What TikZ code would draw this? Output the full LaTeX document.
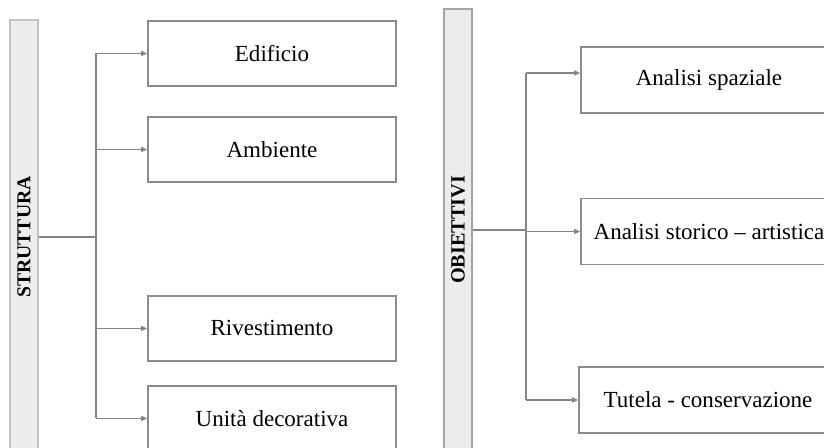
\documentclass[tikz,border=0pt]{standalone}
\usepackage{fontspec}
\setmainfont{Liberation Serif}
\usepackage{xcolor}
\usepackage{tikz}
\usetikzlibrary{positioning,arrows.meta,calc}

\begin{document}
\begin{tikzpicture}[x=0.02cm, y=0.02cm]
    % Define colors
    \definecolor{linegray}{RGB}{133, 133, 133}
    \definecolor{boxgray}{RGB}{140, 140, 140}
    \definecolor{barfill}{RGB}{236, 236, 236}
    \definecolor{barline}{RGB}{196, 196, 196}
    \definecolor{barlinedark}{RGB}{165, 165, 165}

    \tikzset{
        barnode/.style={draw=barline, fill=barfill, line width=0.9pt, minimum width=0.56cm, inner sep=0pt},
        itembox/.style={draw=boxgray, line width=1pt, font=\fontsize{13.1}{15}\selectfont, inner sep=0pt},
        link/.style={draw=linegray, line width=0.9pt},
        arrowlink/.style={link, -{Triangle[length=0.12cm, width=0.1cm]}}
    }

    % Page frame
    \clip (0, 0) rectangle (824, 448);

    % Left group: Struttura
    \node[barnode, minimum height=8.68cm] (sbar) at (24, 211)
        {\rotatebox{90}{\fontsize{11.2}{13}\selectfont\bfseries STRUTTURA}};
    \coordinate (strunk) at (96, 211);

    \node[itembox, minimum width=4.96cm, minimum height=1.3cm] (edificio) at (272, 394.5) {Edificio};
    \node[itembox, minimum width=4.96cm, minimum height=1.3cm] (ambiente) at (272, 298.5) {Ambiente};
    \node[itembox, minimum width=4.96cm, minimum height=1.3cm] (rivest) at (272, 119.5) {Rivestimento};
    \node[itembox, minimum width=4.96cm, minimum height=1.3cm] (unita) at (272, 29.5) {Unità decorativa};

    \draw[link] (sbar.east) -- (strunk);
    \draw[link] (strunk |- edificio.west) -- (strunk |- unita.west);
    \foreach \n in {edificio, ambiente, rivest, unita} {
        \draw[arrowlink] (strunk |- \n.west) -- (\n.west);
    }

    % Right group: Obiettivi
    \node[barnode, draw=barlinedark, minimum height=8.84cm] (obar) at (458, 218)
        {\rotatebox{90}{\fontsize{11.5}{13}\selectfont\bfseries OBIETTIVI}};
    \coordinate (otrunk) at (526, 218);

    \node[itembox, minimum width=5.12cm, minimum height=1.32cm] (spaziale) at (709, 368) {Analisi spaziale};
    \node[itembox, minimum width=5.12cm, minimum height=1.32cm] (storico) at (709, 216.5) {Analisi storico – artistica};
    \node[itembox, minimum width=5.16cm, minimum height=1.32cm] (tutela) at (708, 48) {Tutela - conservazione};
    \coordinate (spazin) at ([yshift=0.14cm]spaziale.west);

    \draw[link] (obar.east) -- (otrunk);
    \draw[link] (otrunk |- spazin) -- (otrunk |- tutela.west);
    \draw[arrowlink] (otrunk |- spazin) -- (spazin);
    \draw[arrowlink] (otrunk |- storico.west) -- (storico.west);
    \draw[arrowlink] (otrunk |- tutela.west) -- (tutela.west);
\end{tikzpicture}
\end{document}
